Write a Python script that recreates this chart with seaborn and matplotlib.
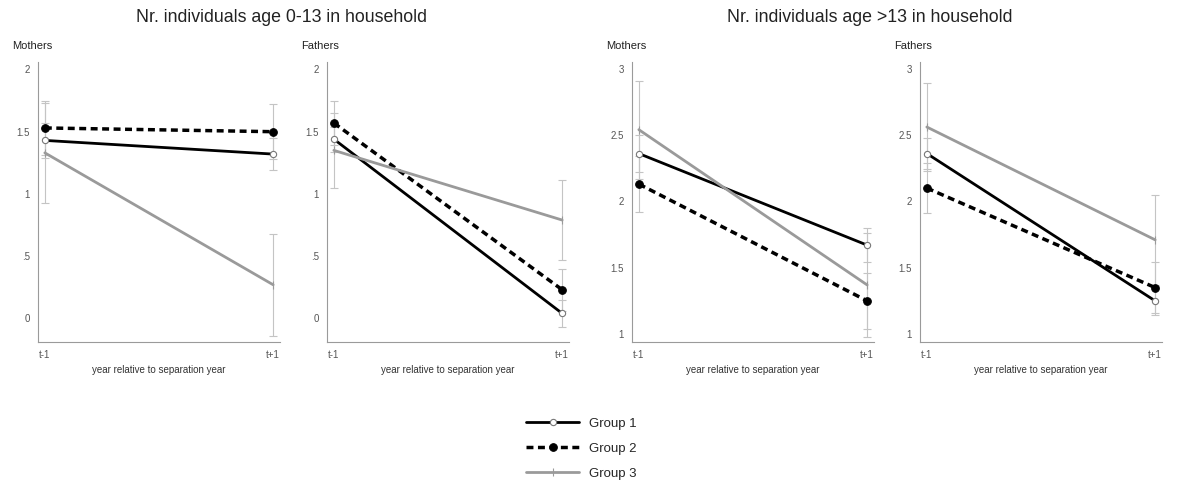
import matplotlib
matplotlib.use("Agg")
import matplotlib.pyplot as plt
import pandas as pd
import seaborn as sns

# x categories
x_labels = ['t-1', 't+1']
groups = ['Group 1', 'Group 2', 'Group 3']

# Nr. individuals age 0-13 in household
young_mothers_mean = {'Group 1': [1.43, 1.32], 'Group 2': [1.53, 1.50], 'Group 3': [1.33, 0.27]}
young_mothers_err = {'Group 1': [0.14, 0.13], 'Group 2': [0.22, 0.22], 'Group 3': [0.40, 0.41]}
young_fathers_mean = {'Group 1': [1.44, 0.04], 'Group 2': [1.57, 0.23], 'Group 3': [1.35, 0.79]}
young_fathers_err = {'Group 1': [0.10, 0.11], 'Group 2': [0.18, 0.17], 'Group 3': [0.30, 0.32]}

# Nr. individuals age >13 in household
older_mothers_mean = {'Group 1': [2.36, 1.67], 'Group 2': [2.13, 1.25], 'Group 3': [2.54, 1.37]}
older_mothers_err = {'Group 1': [0.14, 0.13], 'Group 2': [0.21, 0.21], 'Group 3': [0.37, 0.39]}
older_fathers_mean = {'Group 1': [2.36, 1.25], 'Group 2': [2.10, 1.35], 'Group 3': [2.56, 1.71]}
older_fathers_err = {'Group 1': [0.12, 0.11], 'Group 2': [0.19, 0.19], 'Group 3': [0.33, 0.34]}

young_ticks = [0, 0.5, 1, 1.5, 2]
young_ticklabels = ['0', '.5', '1', '1.5', '2']
older_ticks = [1, 1.5, 2, 2.5, 3]
older_ticklabels = ['1', '1.5', '2', '2.5', '3']

sns.set_style('white')
plt.rcParams['font.family'] = ['Liberation Sans', 'DejaVu Sans']

# line styling per group
line_style = {
    'Group 1': dict(color='black', linestyle='-', lw=2.0, marker='o', ms=4.5,
                    markerfacecolor='white', markeredgecolor='#777777', markeredgewidth=0.8),
    'Group 2': dict(color='black', linestyle=(0, (2, 1.3)), lw=2.5, marker='o', ms=5.5,
                    markerfacecolor='black', markeredgecolor='black'),
    'Group 3': dict(color='#9a9a9a', linestyle='-', lw=2.0, marker='|', ms=6,
                    markeredgecolor='#9a9a9a', markeredgewidth=0.8),
}

W, H = 1187, 482
fig = plt.figure(figsize=(W / 100, H / 100), dpi=100)

panels = [
    (38, 'Mothers', young_mothers_mean, young_mothers_err, (-0.19, 2.06), young_ticks, young_ticklabels),
    (327, 'Fathers', young_fathers_mean, young_fathers_err, (-0.19, 2.06), young_ticks, young_ticklabels),
    (632, 'Mothers', older_mothers_mean, older_mothers_err, (0.94, 3.05), older_ticks, older_ticklabels),
    (920, 'Fathers', older_fathers_mean, older_fathers_err, (0.94, 3.05), older_ticks, older_ticklabels),
]

xpos = list(range(len(x_labels)))
handles = None
for left, title, means, errs, ylim, ticks, ticklabels in panels:
    ax = fig.add_axes([left / W, 1 - 342 / H, 242 / W, 280 / H])
    for g in groups:
        ax.errorbar(xpos, means[g], yerr=errs[g], fmt='none', ecolor='#c4c4c4',
                    elinewidth=0.8, capsize=3, capthick=0.8, zorder=1)
    for g in groups:
        df = pd.DataFrame({'x': xpos, 'value': means[g]})
        sns.lineplot(data=df, x='x', y='value', ax=ax, label=g, errorbar=None,
                     zorder=3, **line_style[g])
    if handles is None:
        handles, labels = ax.get_legend_handles_labels()
    if ax.get_legend() is not None:
        ax.get_legend().remove()
    ax.set_xlim(-0.03, 1.03)
    ax.set_ylim(*ylim)
    ax.set_xticks(xpos)
    ax.set_xticklabels(x_labels)
    ax.set_yticks(ticks)
    ax.set_yticklabels(ticklabels)
    ax.tick_params(length=0, labelsize=7, colors='#555555', pad=6)
    ax.set_xlabel('year relative to separation year', fontsize=7, color='#333333', labelpad=3)
    ax.set_ylabel('')
    for s in ['top', 'right']:
        ax.spines[s].set_visible(False)
    for s in ['left', 'bottom']:
        ax.spines[s].set_color('#9a9a9a')
        ax.spines[s].set_linewidth(0.8)
    ax.text(-26 / 242, 1 + 16 / 280, title, transform=ax.transAxes,
            fontsize=8, va='center', ha='left', color='#222222')

fig.text(282 / W, 1 - 18 / H, 'Nr. individuals age 0-13 in household',
         fontsize=12.8, ha='center', va='center', color='#222222')
fig.text(870 / W, 1 - 18 / H, 'Nr. individuals age >13 in household',
         fontsize=12.8, ha='center', va='center', color='#222222')

fig.legend(handles, labels, loc='upper center', bbox_to_anchor=(0.49, 1 - 406 / H),
           frameon=False, fontsize=9.5, handlelength=4.0, labelspacing=0.95, ncol=1)

fig.savefig('out.png', dpi=100)
